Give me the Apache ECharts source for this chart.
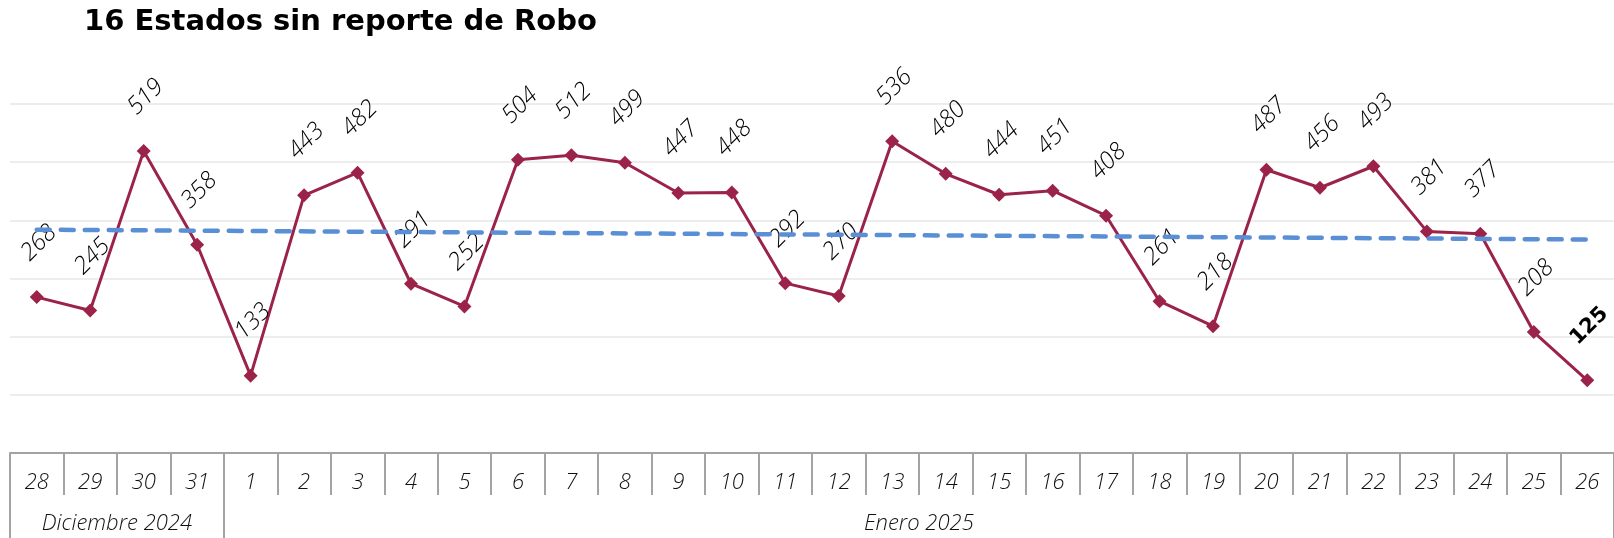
<!DOCTYPE html>
<html>
<head>
<meta charset="utf-8">
<script src="https://cdn.jsdelivr.net/npm/echarts@6/dist/echarts.min.js"></script>
<style>
html,body{margin:0;padding:0;background:#fff;}
#chart{width:1614px;height:538px;}
</style>
</head>
<body>
<div id="chart"></div>
<script>
// ---- data ----
const titleText = '16 Estados sin reporte de Robo';
const days = ['28','29','30','31','1','2','3','4','5','6','7','8','9','10','11','12','13','14','15','16','17','18','19','20','21','22','23','24','25','26'];
const values = [268,245,519,358,133,443,482,291,252,504,512,499,447,448,292,270,536,480,444,451,408,261,218,487,456,493,381,377,208,125];
const trendEnds = [384, 367]; // trend line value at first and last day
const months = ['Diciembre 2024', 'Enero 2025'];
const monthStartIdx = [0, 4];
const yTicks = [0, 100, 200, 300, 400, 500, 600];

const labelFont = "'Open Sans', 'Noto Sans', sans-serif";
const lineColor = '#9B2349';
const trendColor = '#5A8FD6';
const axisGray = '#A3A3A3';

const lastIdx = values.length - 1;
const lineData = values.map((v, i) => i === lastIdx
  ? { value: v, label: { fontWeight: 'bold', fontStyle: 'normal', fontFamily: "'DejaVu Sans', sans-serif", fontSize: 21 } }
  : v);

// month label sits at the middle of each month's span (between two categories)
const monthLabelIdx = {};
monthStartIdx.forEach((s, k) => {
  const e = k + 1 < monthStartIdx.length ? monthStartIdx[k + 1] : days.length;
  monthLabelIdx[Math.floor((s + e - 1) / 2)] = months[k];
});

const chart = echarts.init(document.getElementById('chart'), null, { renderer: 'canvas' });
chart.setOption({
  animation: false,
  backgroundColor: '#ffffff',
  title: {
    text: titleText,
    left: 79,
    top: 3,
    textStyle: { fontFamily: "'DejaVu Sans', sans-serif", fontWeight: 'bold', fontSize: 29, color: '#000' }
  },
  grid: { left: 10, right: 0, top: 104, bottom: 85, containLabel: false },
  xAxis: [
    {
      type: 'category',
      data: days,
      boundaryGap: true,
      position: 'bottom',
      axisLine: { show: true, lineStyle: { color: axisGray, width: 2 } },
      axisTick: { show: true, length: 42, interval: 0, lineStyle: { color: axisGray, width: 2 } },
      axisLabel: { interval: 0, margin: 19, fontFamily: labelFont, fontStyle: 'italic', fontWeight: 300, fontSize: 22, color: '#111' },
      splitLine: { show: false }
    },
    {
      type: 'category',
      data: days,
      boundaryGap: true,
      position: 'bottom',
      offset: 42,
      axisLine: { show: false },
      axisTick: {
        show: true, length: 43,
        interval: (i) => monthStartIdx.indexOf(i) >= 0,
        lineStyle: { color: axisGray, width: 2 }
      },
      axisLabel: {
        interval: (i) => monthLabelIdx[i] !== undefined,
        formatter: (v, i) => monthLabelIdx[i] || '',
        margin: 18,
        padding: [0, 0, 0, 53.4],
        fontFamily: labelFont, fontStyle: 'italic', fontWeight: 300, fontSize: 22, color: '#111'
      },
      splitLine: { show: false }
    }
  ],
  yAxis: {
    type: 'value',
    min: yTicks[0],
    max: yTicks[yTicks.length - 1],
    interval: 100,
    axisLine: { show: false },
    axisTick: { show: false },
    axisLabel: { show: false },
    splitLine: { show: true, lineStyle: { color: '#EDEDED', width: 2 } }
  },
  series: [
    {
      type: 'line',
      data: lineData,
      z: 2,
      symbol: 'diamond',
      symbolSize: 14,
      itemStyle: { color: lineColor },
      lineStyle: { color: lineColor, width: 3 },
      label: {
        show: true,
        position: 'top',
        distance: 45,
        offset: [3, 0],
        rotate: 45,
        align: 'center',
        verticalAlign: 'middle',
        fontFamily: labelFont,
        fontStyle: 'italic',
        fontWeight: 300,
        fontSize: 24,
        color: '#000'
      }
    },
    {
      type: 'line',
      data: [[0, trendEnds[0]], [lastIdx, trendEnds[1]]],
      z: 5,
      symbol: 'none',
      lineStyle: { color: trendColor, width: 4.5, type: [13, 11], cap: 'round' },
      silent: true
    }
  ]
});
</script>
</body>
</html>
